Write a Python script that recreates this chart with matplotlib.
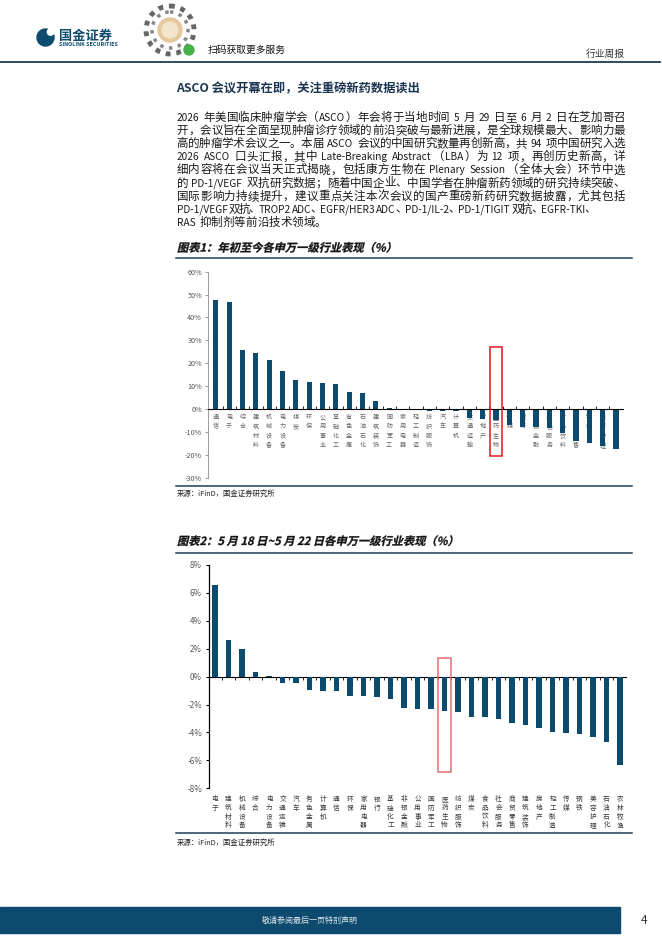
import re
import numpy as np
import matplotlib
matplotlib.use('Agg')
import matplotlib.pyplot as plt
from matplotlib import font_manager
from matplotlib.patches import Rectangle, Circle, PathPatch
from matplotlib.textpath import TextPath
from matplotlib.font_manager import FontProperties
from matplotlib.transforms import Affine2D

plt.rcParams['font.family'] = ['Noto Sans CJK SC', 'DejaVu Sans']
plt.rcParams['axes.unicode_minus'] = False

# ==========================================================
# DATA
# ==========================================================

ytd_names = ['通信', '电子', '综合', '建筑材料', '机械设备', '电力设备', '煤炭',
             '环保', '公用事业', '基础化工', '有色金属', '石油石化', '建筑装饰',
             '国防军工', '家用电器', '轻工制造', '纺织服饰', '汽车', '计算机',
             '交通运输', '房地产', '医药生物', '传媒', '银行', '非银金融',
             '社会服务', '食品饮料', '商贸零售', '钢铁', '美容护理', '农林牧渔']
ytd_values = [47.7, 46.6, 25.8, 24.5, 21.3, 16.6, 12.5, 11.8, 11.5, 10.8, 7.6,
              7.1, 3.6, 0.5, 0.2, 0.15, -0.9, -0.9, -0.9, -3.8, -4.4, -4.7,
              -7.0, -7.7, -8.0, -8.3, -10.3, -13.8, -14.8, -16.3, -17.5]
ytd_ticks = list(range(-30, 61, 10))

week_names = ['电子', '建筑材料', '机械设备', '综合', '电力设备', '交通运输', '汽车',
              '有色金属', '计算机', '通信', '环保', '家用电器', '银行', '基础化工',
              '非银金融', '公用事业', '国防军工', '医药生物', '纺织服饰', '煤炭',
              '食品饮料', '社会服务', '商贸零售', '建筑装饰', '房地产', '轻工制造',
              '传媒', '钢铁', '美容护理', '石油石化', '农林牧渔']
week_values = [6.6, 2.6, 1.95, 0.33, 0.07, -0.43, -0.48, -0.93, -1.0, -1.0,
               -1.36, -1.4, -1.45, -1.6, -2.25, -2.3, -2.32, -2.47, -2.5, -2.88,
               -2.88, -3.07, -3.29, -3.43, -3.71, -3.95, -4.07, -4.12, -4.29,
               -4.71, -6.31]
week_ticks = list(range(-8, 9, 2))

highlight = '医药生物'

title = 'ASCO 会议开幕在即，关注重磅新药数据读出'
body_lines = [
    '2026 年美国临床肿瘤学会（ASCO）年会将于当地时间 5 月 29 日至 6 月 2 日在芝加哥召',
    '开，会议旨在全面呈现肿瘤诊疗领域的前沿突破与最新进展，是全球规模最大、影响力最',
    '高的肿瘤学术会议之一。本届 ASCO 会议的中国研究数量再创新高，共 94 项中国研究入选',
    '2026 ASCO 口头汇报，其中 Late-Breaking Abstract（LBA）为 12 项，再创历史新高，详',
    '细内容将在会议当天正式揭晓，包括康方生物在 Plenary Session（全体大会）环节中选',
    '的 PD-1/VEGF 双抗研究数据；随着中国企业、中国学者在肿瘤新药领域的研究持续突破、',
    '国际影响力持续提升，建议重点关注本次会议的国产重磅新药研究数据披露，尤其包括',
    'PD-1/VEGF 双抗、TROP2 ADC、EGFR/HER3 ADC、PD-1/IL-2、PD-1/TIGIT 双抗、EGFR-TKI、',
    'RAS 抑制剂等前沿技术领域。',
]
# right edge each body line is set to (None = left aligned only)
body_ends = [625, 625, 625, 625, 625, 625, 625, 596, None]
chart1_title = '图表1：年初至今各申万一级行业表现（%）'
chart2_title = '图表2：5 月 18 日~5 月 22 日各申万一级行业表现（%）'
source_text = '来源：iFinD，国金证券研究所'

# ==========================================================
# PAGE SETUP (pixel coords, origin top-left)
# ==========================================================

W, H = 662, 936
NAVY = '#0c4a6e'
LINE = '#1d3d57'
fig = plt.figure(figsize=(W / 100, H / 100), dpi=100)
T = Affine2D().scale(1, -1).translate(0, H).scale(1 / W, 1 / H) + fig.transFigure
renderer = fig.canvas.get_renderer()

installed = {f.name for f in font_manager.fontManager.ttflist}
if 'Liberation Sans Narrow' in installed:
    latin_family, latin_scale = ['Liberation Sans Narrow', 'DejaVu Sans'], 1.0
else:
    latin_family, latin_scale = ['Noto Sans CJK SC', 'DejaVu Sans'], 0.88


def hline(y, x0, x1, color=LINE, lw=1.1):
    fig.add_artist(plt.Line2D([x0, x1], [y, y], transform=T, color=color, lw=lw))


def slanted(text, x, y, size_pt, color='#111111'):
    px = size_pt * 100 / 72
    prop = FontProperties(family='Noto Sans CJK SC', weight='bold')
    path = TextPath((0, 0), text, size=px, prop=prop)
    tr = Affine2D().skew_deg(13, 0).scale(1, -1).translate(x, y) + T
    fig.add_artist(PathPatch(path, transform=tr, fc=color, ec=color, lw=0.2))


def put_line(line, x0, x1, y, size, color='#1a1a1a'):
    em = size * 100 / 72
    toks = re.findall(r'[\x21-\x7e]+| |[^\x00-\x7f]', line)
    widths, kinds = [], []
    for tok in toks:
        if tok == ' ':
            widths.append(0.3 * em)
            kinds.append('space')
        elif ord(tok[0]) > 0x2E7F:
            widths.append(em)
            kinds.append('wide')
        else:
            t = fig.text(0, 0, tok, fontsize=size * latin_scale, family=latin_family)
            widths.append(t.get_window_extent(renderer).width + 0.08 * em)
            t.remove()
            kinds.append('latin')
    gap = ((x1 - x0) - sum(widths)) / (len(toks) - 1) if x1 else 0
    x = x0
    for tok, w, kind in zip(toks, widths, kinds):
        if kind == 'wide':
            fig.text(x, y, tok, transform=T, fontsize=size, ha='left',
                     va='baseline', color=color)
        elif kind == 'latin':
            fig.text(x, y, tok, transform=T, fontsize=size * latin_scale,
                     family=latin_family, ha='left', va='baseline', color=color)
        x += w + gap


# ---- header ----
fig.add_artist(Circle((45.5, 37.5), 8.5, transform=T, color=NAVY))
fig.add_artist(Circle((50.5, 32.0), 3.2, transform=T, color='white'))
fig.text(59, 36, '国金证券', transform=T, fontsize=9.5, fontweight='bold',
         color=NAVY, va='center', ha='left')
fig.text(59, 44.5, 'SINOLINK SECURITIES', transform=T, fontsize=3.9,
         fontweight='bold', color=NAVY, va='center', ha='left')

fig.add_artist(Circle((170, 30), 24, transform=T, fill=False, ec='#666666',
                      lw=3.5, ls=(0, (1, 1.2))))
fig.add_artist(Circle((170, 30), 18, transform=T, fill=False, ec='#888888',
                      lw=2.5, ls=(0, (1, 1.6))))
fig.add_artist(Circle((170, 30), 12, transform=T, color='#e6c89a'))
fig.add_artist(Circle((170, 30), 8, transform=T, color='#f3e4cc'))
fig.add_artist(Circle((189, 50), 5, transform=T, color='#46b04a'))
fig.text(208, 50, '扫码获取更多服务', transform=T, fontsize=7, color='#111111',
         va='center', ha='left')
fig.text(586, 54, '行业周报', transform=T, fontsize=7, color='#333333',
         va='center', ha='left')
hline(62, 0, 660, lw=1.3)

# ---- title and body ----
fig.text(176.5, 92.5, title, transform=T, fontsize=8.8, fontweight='bold',
         color='#1b3551', ha='left', va='baseline')

body_size = 8.3
for i, line in enumerate(body_lines):
    base = 116.7 + i * 13.12 + 4.2
    put_line(line, 176.5, body_ends[i], base, body_size)

# ==========================================================
# CHART 1
# ==========================================================

slanted(chart1_title, 177, 251.6, 8.1)
hline(257.7, 176, 632)
hline(486, 176, 632)
fig.text(177, 494.3, source_text, transform=T, fontsize=5.3, color='#222222',
         ha='left', va='center')

ax1 = fig.add_axes([208.3 / W, 1 - 477.7 / H, (622.7 - 208.3) / W, (477.7 - 271.7) / H])
x1 = np.arange(len(ytd_names))
ax1.bar(x1, ytd_values, width=0.38, color=NAVY, zorder=3)
ax1.set_xlim(-0.57, len(ytd_names) - 0.5)
ax1.set_ylim(-30, 60)
ax1.set_yticks(ytd_ticks, [f'{v}%' for v in ytd_ticks])
ax1.set_xticks(x1, ['\n'.join(n) for n in ytd_names])
ax1.set_xticks(np.arange(0.5, len(ytd_names) - 0.5, 1), minor=True)
ax1.tick_params(axis='y', direction='out', length=2.5, width=0.6,
                color='#8c8c8c', labelsize=5.2, labelcolor='#555555', pad=2)
ax1.tick_params(axis='x', which='major', length=0, labelsize=4.4,
                labelcolor='#666666', pad=3)
ax1.tick_params(axis='x', which='minor', direction='in', length=2.5, width=0.6,
                color='black')
for lab in ax1.get_xticklabels():
    lab.set_linespacing(0.85)
ax1.spines['bottom'].set_position(('data', 0))
ax1.spines['bottom'].set_zorder(4)
ax1.spines['bottom'].set_linewidth(0.8)
ax1.spines['left'].set_color('#8c8c8c')
ax1.spines['left'].set_linewidth(0.6)
for s in ['top', 'right']:
    ax1.spines[s].set_visible(False)
ax1.set_facecolor('none')

h1 = ytd_names.index(highlight)
ax1.add_patch(Rectangle((h1 - 0.43, -20.7), 0.86, 47.6, fill=False,
                        ec='#e3151c', lw=1.1, clip_on=False, zorder=5))

# ==========================================================
# CHART 2
# ==========================================================

slanted(chart2_title, 177, 545, 8.1)
hline(552.7, 176, 632)
hline(833, 176, 632)
fig.text(177, 843, source_text, transform=T, fontsize=5.3, color='#222222',
         ha='left', va='center')

ax2 = fig.add_axes([209 / W, 1 - 788.3 / H, (626 - 209) / W, (788.3 - 565) / H])
x2 = np.arange(len(week_names))
ax2.bar(x2, week_values, width=0.4, color=NAVY, zorder=3)
ax2.set_xlim(-0.44, len(week_names) - 0.56)
ax2.set_ylim(-8, 8)
ax2.set_yticks(week_ticks, [f'{v}%' for v in week_ticks])
ax2.set_xticks(x2, ['\n'.join(n) for n in week_names])
ax2.tick_params(axis='y', direction='out', length=2.5, width=0.8,
                color='black', labelsize=5.8, labelcolor='#555555', pad=2.5)
ax2.tick_params(axis='x', length=0, labelsize=4.8, labelcolor='#3a3a3a', pad=5)
for lab in ax2.get_xticklabels():
    lab.set_linespacing(1.12)
for s in ['top', 'right', 'bottom']:
    ax2.spines[s].set_visible(False)
ax2.spines['left'].set_linewidth(0.9)

zero_axis = ax2.secondary_xaxis(0.5)
zero_axis.set_xticks(np.arange(0.5, len(week_names) - 0.5, 1), labels=[])
zero_axis.tick_params(direction='in', length=2.5, width=0.6, color='black')
zero_axis.spines['bottom'].set_linewidth(0.9)

h2 = week_names.index(highlight)
ax2.add_patch(Rectangle((h2 - 0.46, -6.86), 0.93, 8.22, fill=False,
                        ec='#e07070', lw=1.1, clip_on=False, zorder=5))

# ==========================================================
# FOOTER
# ==========================================================

fig.add_artist(Rectangle((0, 907), 620, 26, transform=T, color=NAVY))
fig.text(310, 920, '敬请参阅最后一页特别声明', transform=T, fontsize=5.8,
         color='#dce5ec', ha='center', va='center')
fig.text(644, 920, '4', transform=T, fontsize=8.5, color='#333333',
         ha='center', va='center')

fig.savefig('out.png', dpi=100)
